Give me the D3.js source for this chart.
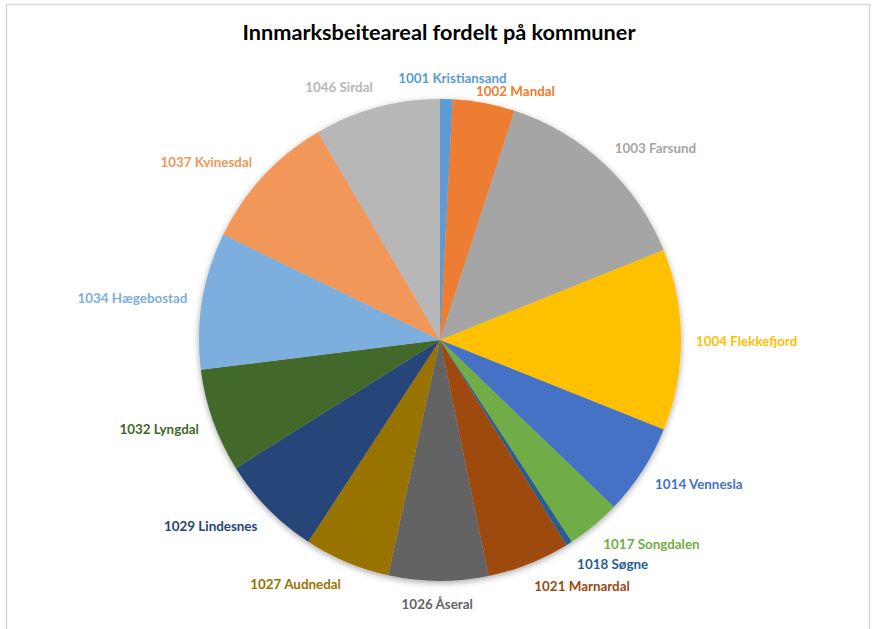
<!DOCTYPE html>
<html>
<head>
<meta charset="utf-8">
<script src="https://cdn.jsdelivr.net/npm/d3@7"></script>
<style>
  body { margin: 0; background: #fff; }
  svg { display: block; }
</style>
</head>
<body>
<svg></svg>
<script>
var width = 872,
  height = 629;

// Data (share of area per kommune)
var kommuner = ["1001 Kristiansand", "1002 Mandal", "1003 Farsund", "1004 Flekkefjord",
  "1014 Vennesla", "1017 Songdalen", "1018 Søgne", "1021 Marnardal", "1026 Åseral",
  "1027 Audnedal", "1029 Lindesnes", "1032 Lyngdal", "1034 Hægebostad",
  "1037 Kvinesdal", "1046 Sirdal"];
var areal = [30, 150, 500, 437, 220, 130, 15, 200, 240, 207, 247, 250, 330, 336, 304];
var farger = ["#5B9BD5", "#ED7D31", "#A5A5A5", "#FFC000", "#4472C4", "#70AD47", "#255E91",
  "#9E480E", "#636363", "#997300", "#264478", "#43682B", "#7CAFDD", "#F1975A", "#B7B7B7"];

var cx = 440, cy = 340, r = 241;

var svg = d3.select("svg")
  .attr("width", width)
  .attr("height", height);

// chart border
svg.append("rect")
  .attr("x", 6.5).attr("y", 4.5)
  .attr("width", 863).attr("height", 640)
  .attr("fill", "#fff")
  .attr("stroke", "#d9d9d9")
  .attr("stroke-width", 1.5);

var defs = svg.append("defs");
var filter = defs.append("filter").attr("id", "shadow")
  .attr("x", "-10%").attr("y", "-10%").attr("width", "120%").attr("height", "120%");
filter.append("feDropShadow")
  .attr("dx", 0).attr("dy", 2)
  .attr("stdDeviation", 3)
  .attr("flood-color", "#000")
  .attr("flood-opacity", 0.35);

svg.append("text")
  .attr("x", 439)
  .attr("y", 40)
  .attr("text-anchor", "middle")
  .style("font-family", "Lato, 'Open Sans', sans-serif")
  .style("font-weight", "bold")
  .style("font-size", "21.7px")
  .attr("fill", "#000")
  .text("Innmarksbeiteareal fordelt på kommuner");

var pie = d3.pie().sort(null).value(function(d) { return d; });
var arcs = pie(areal);
var arc = d3.arc().innerRadius(0).outerRadius(r);

var g = svg.append("g")
  .attr("transform", "translate(" + cx + "," + cy + ")");

g.append("g")
  .attr("filter", "url(#shadow)")
  .selectAll("path")
  .data(arcs)
  .enter().append("path")
  .attr("d", arc)
  .attr("fill", function(d, i) { return farger[i]; });

// Labels outside end, Excel style
var fontSize = 13.4, lineH = 15;
var labels = g.append("g")
  .style("font-family", "Lato, 'Open Sans', sans-serif")
  .style("font-weight", "bold")
  .style("font-size", fontSize + "px");

var placed = [];
arcs.forEach(function(d, i) {
  var a = (d.startAngle + d.endAngle) / 2,
    s = Math.sin(a), c = Math.cos(a),
    px = (r + 15) * s,
    py = -(r + 15) * c;
  var t = labels.append("text")
    .attr("fill", farger[i])
    .attr("dominant-baseline", "central")
    .text(kommuner[i]);
  var w = t.node().getComputedTextLength();
  var k = Math.max(-1, Math.min(1, s * 4));
  var box = { x: px + (k - 1) / 2 * w, y: py - c * lineH / 2 - lineH / 2 + 1, w: w, h: lineH };
  // push away from labels already placed
  placed.forEach(function(b) {
    if (box.x < b.x + b.w && box.x + box.w > b.x && box.y < b.y + b.h && box.y + box.h > b.y) {
      if (s >= 0) box.y = b.y + b.h - 2;
      else box.y = b.y - box.h + 2;
    }
  });
  placed.push(box);
  t.attr("x", box.x).attr("y", box.y + lineH / 2);
});
</script>
</body>
</html>
